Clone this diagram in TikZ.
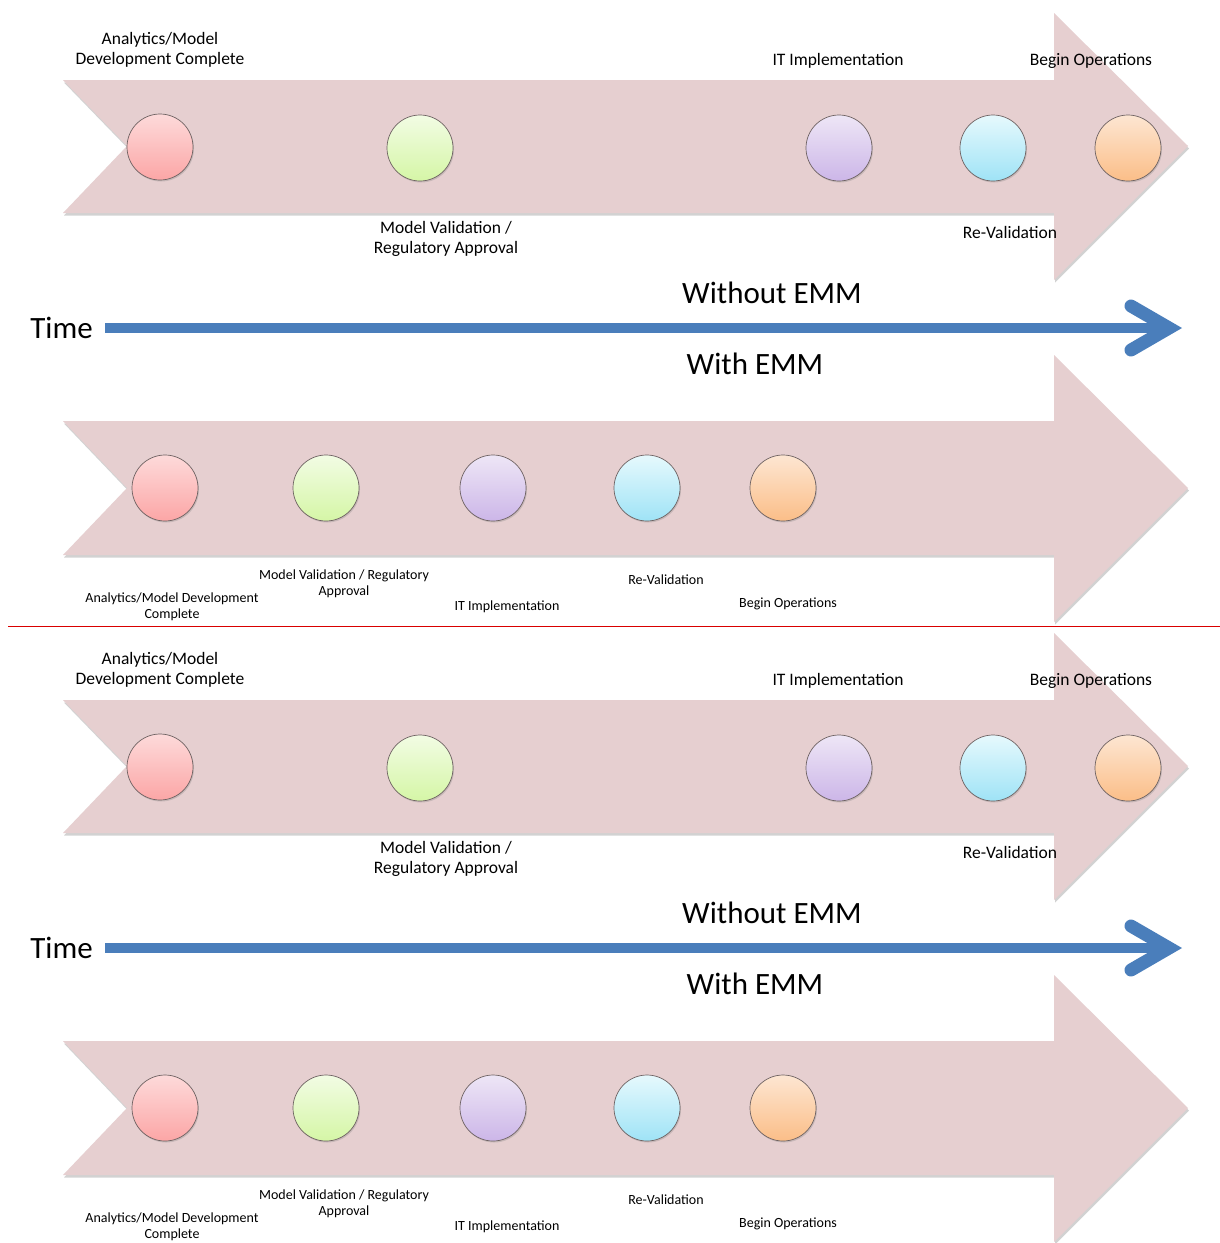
\documentclass[tikz,border=0pt]{standalone}
\usepackage{fontspec}
\setmainfont{Carlito}
\usetikzlibrary{shadows,arrows.meta}

\definecolor{bandpink}{HTML}{E6CFD0}
\definecolor{timeblue}{HTML}{4A7EBB}
\definecolor{rimgray}{HTML}{6E6262}
\definecolor{redtop}{HTML}{FDDADA}
\definecolor{redbot}{HTML}{FCA6A6}
\definecolor{greentop}{HTML}{F2FCE4}
\definecolor{greenbot}{HTML}{D5F6A6}
\definecolor{violettop}{HTML}{EEE6F6}
\definecolor{violetbot}{HTML}{CCB6E8}
\definecolor{cyantop}{HTML}{E6F9FD}
\definecolor{cyanbot}{HTML}{9FE3F6}
\definecolor{orangetop}{HTML}{FDE6D2}
\definecolor{orangebot}{HTML}{FBBE88}

\tikzset{
  band/.style={fill=bandpink, drop shadow={shadow xshift=1pt, shadow yshift=-2.5pt, opacity=0.35, fill=gray}},
  milestone/.style={circle, draw=rimgray, line width=0.7pt, minimum size=66pt, inner sep=0pt,
    top color=#1top, bottom color=#1bot,
    drop shadow={shadow xshift=1pt, shadow yshift=-1.5pt, opacity=0.3}},
  bigtext/.style={font=\fontsize{17.5}{19.5}\selectfont, align=center, inner sep=0pt},
  smalltext/.style={font=\fontsize{14}{15.5}\selectfont, align=center, inner sep=0pt},
  headtext/.style={font=\fontsize{31}{34}\selectfont, inner sep=0pt},
  timeline/.style={draw=timeblue, line width=10pt,
    -{Straight Barb[length=38pt, width=44pt, line width=0pt 1.3, line cap=round, line join=miter]}}
}

\newcommand{\emmpanel}{%
  % without EMM
  \path[band] (63,80) -- (1054,80) -- (1054,13) -- (1188,146) -- (1054,280) -- (1054,213)
    -- (63,213) -- (127,146) -- cycle;
  \node[milestone=red] (w1) at (160,147) {};
  \node[milestone=green] (w2) at (420,148) {};
  \node[milestone=violet] (w3) at (839,148) {};
  \node[milestone=cyan] (w4) at (993,148) {};
  \node[milestone=orange] (w5) at (1128,148) {};
  \node[bigtext] (wl1) at (160,50) {Analytics/Model\\Development Complete};
  \node[bigtext] (wl2) at (446,239) {Model Validation /\\Regulatory Approval};
  \node[bigtext] (wl3) at (838,61) {IT Implementation};
  \node[bigtext] (wl4) at (1010,232) {Re-Validation};
  \node[bigtext] (wl5) at (1091,61) {Begin Operations};
  % time axis
  \node[headtext, anchor=east] (time) at (93,328) {Time};
  \coordinate (tend) at (1182,328);
  \draw[timeline] (time.east) ++(12pt,0) -- (tend);
  \node[headtext] (without) at (772,293) {Without EMM};
  \node[headtext] (with) at (755,364) {With EMM};
  % with EMM
  \path[band] (63,421) -- (1054,421) -- (1054,355) -- (1188,488) -- (1054,622) -- (1054,555)
    -- (63,555) -- (127,488) -- cycle;
  \node[milestone=red] (m1) at (165,488) {};
  \node[milestone=green] (m2) at (326,488) {};
  \node[milestone=violet] (m3) at (493,488) {};
  \node[milestone=cyan] (m4) at (647,488) {};
  \node[milestone=orange] (m5) at (783,488) {};
  \node[smalltext] (ml1) at (172,607) {Analytics/Model Development\\Complete};
  \node[smalltext] (ml2) at (344,584) {Model Validation / Regulatory\\Approval};
  \node[smalltext] (ml3) at (507,607) {IT Implementation};
  \node[smalltext] (ml4) at (666,580) {Re-Validation};
  \node[smalltext] (ml5) at (788,604) {Begin Operations};
}

\begin{document}
\begin{tikzpicture}[x=1pt, y=-1pt]
  \useasboundingbox (0,0) rectangle (1220,1243);
  \fill[white] (0,0) rectangle (1220,1243);
  \begin{scope}
    \clip (0,0) rectangle (1220,1243);
    \foreach \dy/\p in {0/top, 620/bot} {
      \begin{scope}[yshift=-\dy pt, name prefix=\p-]
        \emmpanel
      \end{scope}
    }
  \end{scope}
  % divider
  \coordinate (divl) at (8,626);
  \coordinate (divr) at (1220,626);
  \draw[red!85!black, line width=1pt] (divl) -- (divr);
\end{tikzpicture}
\end{document}
